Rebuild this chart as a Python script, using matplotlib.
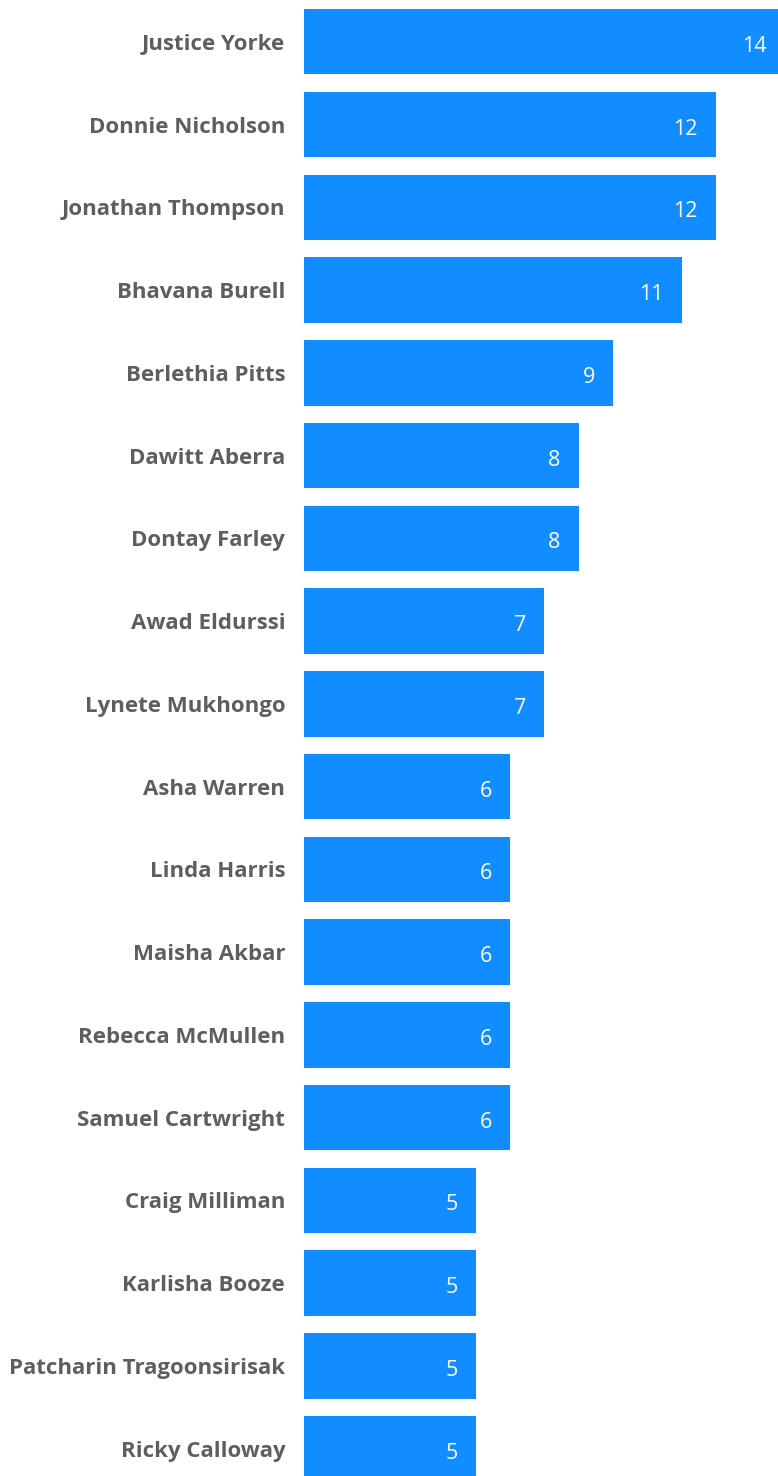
import matplotlib.pyplot as plt
from matplotlib import transforms

names = ['Justice Yorke', 'Donnie Nicholson', 'Jonathan Thompson', 'Bhavana Burell',
         'Berlethia Pitts', 'Dawitt Aberra', 'Dontay Farley', 'Awad Eldurssi',
         'Lynete Mukhongo', 'Asha Warren', 'Linda Harris', 'Maisha Akbar',
         'Rebecca McMullen', 'Samuel Cartwright', 'Craig Milliman', 'Karlisha Booze',
         'Patcharin Tragoonsirisak', 'Ricky Calloway']
counts = [14, 12, 12, 11, 9, 8, 8, 7, 7, 6, 6, 6, 6, 6, 5, 5, 5, 5]

bar_color = '#118DFF'
label_color = '#605E5C'

plt.rcParams['font.family'] = ['Open Sans', 'DejaVu Sans']

fig = plt.figure(figsize=(7.78, 14.76), dpi=100)
ax = fig.add_axes([304 / 778, 0, 474 / 778, 1])

ypos = list(range(len(names)))
ax.barh(ypos, counts, height=0.791, color=bar_color)

ax.set_xlim(0, 13.81)
ax.set_ylim(17.33, -0.5045)

ax.set_yticks(ypos)
ax.set_yticklabels(names, fontsize=16, fontweight='bold', color=label_color)
ax.tick_params(axis='y', length=0, pad=13.5)
ax.set_xticks([])
for s in ax.spines.values():
    s.set_visible(False)

offset = transforms.ScaledTranslation(-18 / 100, -4.5 / 100, fig.dpi_scale_trans)
for y, v in zip(ypos, counts):
    ax.text(v, y, str(v), ha='right', va='center', color='white', fontsize=15.5,
            transform=ax.transData + offset, clip_on=False)

fig.savefig('out.png', dpi=100)
